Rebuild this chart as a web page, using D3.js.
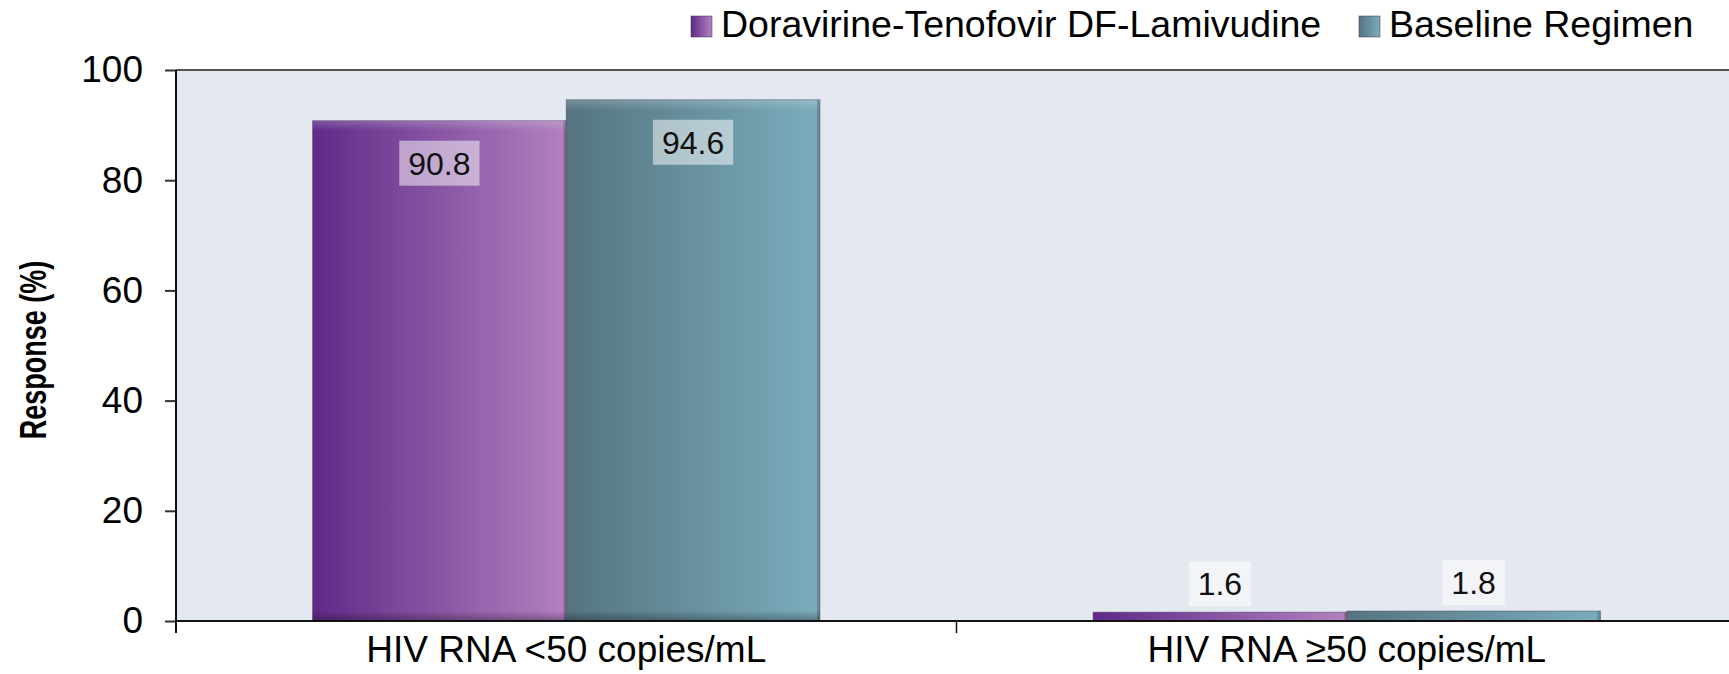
<!DOCTYPE html>
<html>
<head>
<meta charset="utf-8">
<script src="https://cdn.jsdelivr.net/npm/d3@7"></script>
<style>
  body { margin: 0; background: #fff; }
  text { font-family: "Liberation Sans", Arial, sans-serif; }
</style>
</head>
<body>
<div id="vis"></div>
<script>
var width = 1729,
    height = 674;

// data
var categories = ["HIV RNA <50 copies/mL", "HIV RNA \u226550 copies/mL"];
var seriesNames = ["Doravirine-Tenofovir DF-Lamivudine", "Baseline Regimen"];
var doravirine = [90.8, 1.6];
var baseline = [94.6, 1.8];
var yTicks = [0, 20, 40, 60, 80, 100];

var plot = {left: 176, right: 1737, top: 70, bottom: 621};

var svg = d3.select("#vis").append("svg")
    .attr("width", width)
    .attr("height", height);

var defs = svg.append("defs");
// horizontal colour gradients, dark on the left
var grads = [
  {id: "g0", from: "#5f2a88", to: "#b381c0"},
  {id: "g1", from: "#557480", to: "#7badbd"}
];
grads.forEach(function(g) {
  var lg = defs.append("linearGradient").attr("id", g.id)
      .attr("x1", 0).attr("x2", 1).attr("y1", 0).attr("y2", 0);
  lg.append("stop").attr("offset", "0%").attr("stop-color", g.from);
  lg.append("stop").attr("offset", "100%").attr("stop-color", g.to);
});
// bevel shading
var bev = defs.append("linearGradient").attr("id", "bevel")
    .attr("x1", 0).attr("x2", 0).attr("y1", 0).attr("y2", 1);
bev.append("stop").attr("offset", "0%").attr("stop-color", "#fff").attr("stop-opacity", 0.2);
bev.append("stop").attr("offset", "2%").attr("stop-color", "#fff").attr("stop-opacity", 0);
bev.append("stop").attr("offset", "98%").attr("stop-color", "#000").attr("stop-opacity", 0);
bev.append("stop").attr("offset", "100%").attr("stop-color", "#000").attr("stop-opacity", 0.3);

var x0 = d3.scaleBand()
    .domain(categories)
    .range([plot.left, plot.right])
    .paddingInner(0.35)
    .paddingOuter(0.175);

var x1 = d3.scaleBand()
    .domain([0, 1])
    .range([0, x0.bandwidth()]);

var y = d3.scaleLinear()
    .domain([0, 100])
    .range([plot.bottom, plot.top]);

// plot background
svg.append("rect")
    .attr("x", plot.left).attr("y", plot.top)
    .attr("width", plot.right - plot.left)
    .attr("height", plot.bottom - plot.top)
    .attr("fill", "#e4e8f1");

// top border
svg.append("line")
    .attr("x1", plot.left).attr("x2", width)
    .attr("y1", plot.top).attr("y2", plot.top)
    .attr("stroke", "#555").attr("stroke-width", 2);

var rows = [];
categories.forEach(function(c, i) {
  rows.push({cat: c, s: 0, v: doravirine[i]});
  rows.push({cat: c, s: 1, v: baseline[i]});
});

var bars = svg.append("g").selectAll("g")
    .data(rows)
    .enter().append("g")
    .attr("transform", function(d) { return "translate(" + (x0(d.cat) + x1(d.s)) + ",0)"; });

bars.append("rect")
    .attr("x", 0)
    .attr("y", function(d) { return y(d.v); })
    .attr("width", x1.bandwidth())
    .attr("height", function(d) { return y(0) - y(d.v); })
    .attr("fill", function(d) { return "url(#g" + d.s + ")"; })
    .attr("stroke", "rgba(60,50,80,0.45)")
    .attr("stroke-width", 1);

bars.append("rect")
    .attr("x", 0)
    .attr("y", function(d) { return y(d.v); })
    .attr("width", x1.bandwidth())
    .attr("height", function(d) { return y(0) - y(d.v); })
    .attr("fill", "url(#bevel)");

// right edge shadow
bars.append("rect")
    .attr("x", x1.bandwidth() - 3)
    .attr("y", function(d) { return y(d.v); })
    .attr("width", 3)
    .attr("height", function(d) { return y(0) - y(d.v); })
    .attr("fill", "#000").attr("opacity", 0.18);

// value labels
var labelSize = 32;
bars.each(function(d) {
  var g = d3.select(this);
  var txt = String(d.v);
  var t = g.append("text")
      .attr("x", x1.bandwidth() / 2)
      .attr("text-anchor", "middle")
      .style("font-size", labelSize + "px")
      .attr("fill", "#111")
      .text(txt);
  var tw = t.node().getComputedTextLength();
  var bh = 45, bw = tw + 18;
  var top = (y(0) - y(d.v) > 80) ? y(d.v) + 20 : y(d.v) - 6 - bh;
  g.insert("rect", "text")
      .attr("x", x1.bandwidth() / 2 - bw / 2)
      .attr("y", top)
      .attr("width", bw).attr("height", bh)
      .attr("fill", "#fff").attr("fill-opacity", 0.5);
  t.attr("y", top + bh / 2).attr("dy", "0.36em");
});

// y axis
var yAxis = svg.append("g")
    .attr("transform", "translate(" + plot.left + ",0)")
    .call(d3.axisLeft(y).tickValues(yTicks).tickSize(11).tickPadding(22));
yAxis.select(".domain").remove();
yAxis.selectAll(".tick line").attr("stroke", "#333").attr("stroke-width", 2);
yAxis.selectAll(".tick text")
    .style("font-size", "37px")
    .style("font-family", "Liberation Sans, Arial, sans-serif")
    .attr("fill", "#000");
svg.append("line")
    .attr("x1", plot.left).attr("x2", plot.left)
    .attr("y1", plot.top).attr("y2", plot.bottom + 12)
    .attr("stroke", "#111").attr("stroke-width", 2);

// x axis
var xAxis = svg.append("g")
    .attr("transform", "translate(0," + plot.bottom + ")")
    .call(d3.axisBottom(x0).tickSize(0).tickPadding(15));
xAxis.select(".domain").remove();
xAxis.selectAll(".tick text")
    .style("font-size", "37px")
    .style("font-family", "Liberation Sans, Arial, sans-serif")
    .attr("fill", "#000");
svg.append("line")
    .attr("x1", plot.left).attr("x2", width)
    .attr("y1", plot.bottom).attr("y2", plot.bottom)
    .attr("stroke", "#111").attr("stroke-width", 2);
// boundary ticks between categories
svg.append("g").selectAll("line")
    .data(categories)
    .enter().append("line")
    .attr("x1", function(d) { return x0(d) + x0.bandwidth() / 2 + x0.step() / 2; })
    .attr("x2", function(d) { return x0(d) + x0.bandwidth() / 2 + x0.step() / 2; })
    .attr("y1", plot.bottom).attr("y2", plot.bottom + 12)
    .attr("stroke", "#111").attr("stroke-width", 1.5);

// y title (condensed bold, like the original)
svg.append("text")
    .attr("transform", "translate(46,350) rotate(-90) scale(0.75,1)")
    .attr("text-anchor", "middle")
    .style("font-size", "36px")
    .style("font-weight", "bold")
    .text("Response (%)");

// legend
var legendX = [691, 1359];
var legend = svg.append("g").selectAll("g")
    .data(seriesNames)
    .enter().append("g")
    .attr("transform", function(d, i) { return "translate(" + legendX[i] + ",0)"; });
legend.append("rect")
    .attr("x", 0).attr("y", 16)
    .attr("width", 21).attr("height", 21)
    .attr("fill", function(d, i) { return "url(#g" + i + ")"; })
    .attr("stroke", "rgba(60,50,80,0.5)");
legend.append("text")
    .attr("x", 30).attr("y", 37)
    .style("font-size", "37.5px")
    .text(function(d) { return d; });
</script>
</body>
</html>
